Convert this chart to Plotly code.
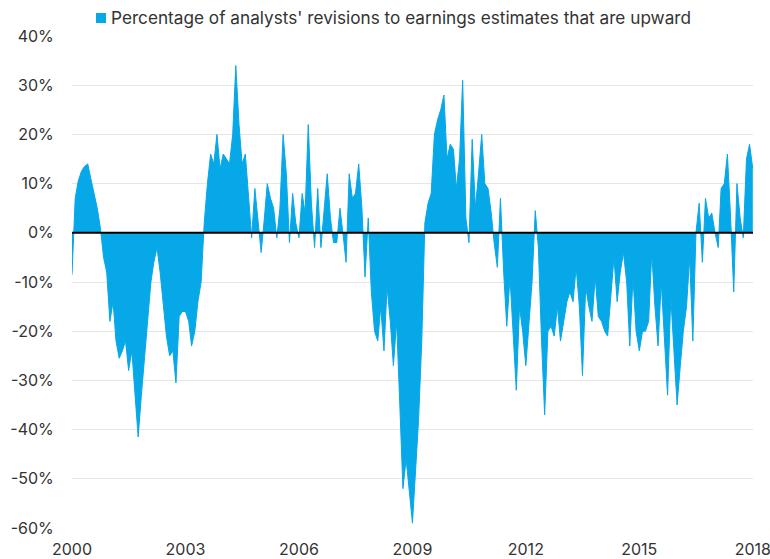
import plotly.graph_objects as go
import pandas as pd

# Monthly readings (percent), Jan 2000 .. Jan 2018
y2000 = [-8.5, 7, 10.5, 12.5, 13.5, 14, 11, 8, 5, 1, -5, -8]
y2001 = [-18, -14, -22, -25.5, -24, -22, -28, -24, -33, -41.5, -33, -25]
y2002 = [-17, -10, -6, -3, -8, -15, -21, -25, -24, -30.5, -17, -16]
y2003 = [-16, -18, -23, -20, -14, -10, 2, 10, 16, 14, 20, 13]
y2004 = [16, 15, 14, 20, 34, 22, 14, 16, 8, -1, 9, 3]
y2005 = [-4, 3, 10, 7, 5, -1, 5, 20, 12, -2, 8, 2]
y2006 = [-1, 8, 4, 22, 6, -3, 9, -3, 4, 12, 3, -2]
y2007 = [-2, 5, 0, -6, 12, 7, 8, 14, 5, -9, 3, -12]
y2008 = [-20, -22, -15, -24, -11, -18, -27, -18, -35, -52, -46, -52]
y2009 = [-59, -48, -38, -22, 2, 6, 8, 20, 23, 25, 28, 15]
y2010 = [18, 17, 9, 15, 31, 3, -2, 19, 5, 12, 20, 10]
y2011 = [9, 4, -2, -7, 7, -8, -19, -9, -22, -32, -15, -20]
y2012 = [-27, -18, -10, 4.5, -3, -22, -37, -20, -19, -21, -15, -22]
y2013 = [-18, -14, -12, -14, -7, -15, -29, -11, -15, -18, -9, -17]
y2014 = [-18, -20, -21, -12, -5, -14, -8, -4, -10, -23, -9, -20]
y2015 = [-24, -20, -20, -18, -4, -15, -23, -10, -22, -33, -13, -25]
y2016 = [-35, -27, -20, -15, -5, -22, 0, 6, -6, 7, 3, 4]
y2017 = [0, -3, 9, 10, 16, 3, -12, 10, 3, -1, 15, 18]
y2018 = [13]

values = (y2000 + y2001 + y2002 + y2003 + y2004 + y2005 + y2006 + y2007 + y2008
          + y2009 + y2010 + y2011 + y2012 + y2013 + y2014 + y2015 + y2016 + y2017 + y2018)
dates = pd.date_range("2000-01-01", periods=len(values), freq="MS")

series_name = "Percentage of analysts' revisions to earnings estimates that are upward"
y_tickvals = [40, 30, 20, 10, 0, -10, -20, -30, -40, -50, -60]
y_ticktext = ["40%", "30%", "20%", "10%", "0%", "-10%", "-20%", "-30%", "-40%", "-50%", "-60%"]
x_tickvals = ["2000-01-01", "2003-01-01", "2006-01-01", "2009-01-01", "2012-01-01", "2015-01-01", "2018-01-01"]
x_ticktext = ["2000", "2003", "2006", "2009", "2012", "2015", "2018"]

BLUE = "#06A8E8"
TXT = "#333333"
FONT = "Inter"

W, H = 770, 559
ML, MR, MT, MB = 72, 17, 36, 31
PW, PH = W - ML - MR, H - MT - MB


def px_x(p):
    return (p - ML) / PW


def px_y(p):
    return 1 + (MT - p) / PH


fig = go.Figure()
fig.add_trace(go.Scatter(
    x=dates, y=values, mode="lines", fill="tozeroy",
    line=dict(color=BLUE, width=1), fillcolor=BLUE,
    name=series_name, showlegend=False, hoverinfo="x+y",
))

fig.add_shape(type="line", xref="paper", x0=0, x1=1, yref="y", y0=0, y1=0,
              line=dict(color="black", width=2), layer="above")
# legend swatch + legend text
fig.add_shape(type="rect", xref="paper", yref="paper",
              x0=px_x(96), x1=px_x(106), y0=px_y(23), y1=px_y(13),
              fillcolor=BLUE, line=dict(width=0))
fig.add_annotation(xref="paper", yref="paper", x=px_x(109), y=px_y(18),
                   xanchor="left", yanchor="middle", showarrow=False,
                   text=series_name, font=dict(family=FONT, size=17.2, color=TXT))

fig.update_layout(
    width=W, height=H,
    margin=dict(l=ML, r=MR, t=MT, b=MB, autoexpand=False),
    paper_bgcolor="white", plot_bgcolor="white",
    font=dict(family=FONT, size=16, color=TXT),
    showlegend=False,
    xaxis=dict(type="date", range=["2000-01-01", "2018-01-03"],
               tickmode="array", tickvals=x_tickvals, ticktext=x_ticktext,
               showgrid=False, zeroline=False, showline=False,
               ticks="outside", ticklen=7, tickcolor="rgba(0,0,0,0)",
               ticklabeloverflow="allow",
               tickfont=dict(family=FONT, size=16, color=TXT)),
    yaxis=dict(range=[-60, 40], tickmode="array", tickvals=y_tickvals, ticktext=y_ticktext,
               showgrid=True, gridcolor="#E6E6E6", gridwidth=1,
               zeroline=False, showline=False,
               ticks="outside", ticklen=14, tickcolor="rgba(0,0,0,0)",
               tickfont=dict(family=FONT, size=16, color=TXT)),
)

fig.write_html("out.html", config={"displayModeBar": False},
               post_script="document.body.style.margin='0';document.body.style.overflow='hidden';")
